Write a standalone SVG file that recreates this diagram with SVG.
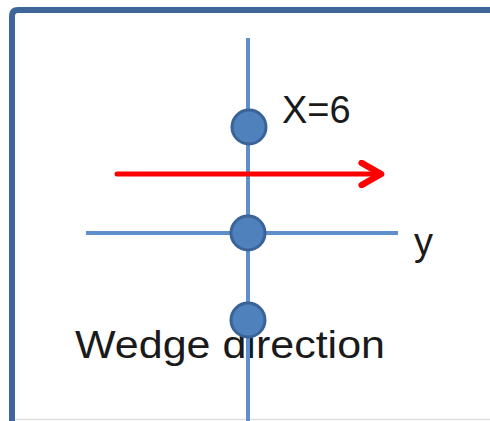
<svg xmlns="http://www.w3.org/2000/svg" width="490" height="421" viewBox="0 0 490 421">
<defs>
<style>
.frame{fill:none;stroke:#3E6699;stroke-width:6}
.axis{stroke:#5F8FCB;stroke-width:4;fill:none}
.pt{fill:#4F81BD;stroke:#3A6497;stroke-width:3}
.lbl{font-family:"Liberation Sans",Arial,sans-serif;font-size:38px;fill:#1a1a1a}
.dir{stroke:#FF0000;stroke-width:5;fill:none;stroke-linecap:round}
</style>
<marker id="chev" viewBox="0 0 10 10" refX="8.5" refY="5" markerWidth="5.5" markerHeight="5.5" markerUnits="strokeWidth" orient="auto">
<path d="M1.5,1 L8.5,5 L1.5,9" fill="none" stroke="#FF0000" stroke-width="2.4" stroke-linecap="round" stroke-linejoin="round"/>
</marker>
</defs>
<rect width="490" height="421" fill="#ffffff"/>
<line x1="10" y1="419.5" x2="490" y2="419.5" stroke="#E0E0E0" stroke-width="1.5"/>
<path class="frame" d="M12,424 L12,16 Q12,10 18,10 L494,10"/>
<text class="lbl" x="75" y="358" textLength="310" lengthAdjust="spacingAndGlyphs">Wedge direction</text>
<g id="connectors">
<line class="axis" x1="248" y1="38" x2="248" y2="421"/>
<line class="axis" x1="86" y1="233" x2="398" y2="233"/>
<line class="dir" x1="117" y1="174" x2="381" y2="174" marker-end="url(#chev)"/>
</g>
<g id="node-x6">
<circle class="pt" cx="249" cy="127" r="17"/>
<text class="lbl" x="282" y="123">X=6</text>
</g>
<g id="node-origin">
<circle class="pt" cx="248" cy="233" r="17"/>
<text class="lbl" x="414" y="255">y</text>
</g>
<g id="node-wedge">
<circle class="pt" cx="248" cy="320" r="17"/>
</g>
</svg>
